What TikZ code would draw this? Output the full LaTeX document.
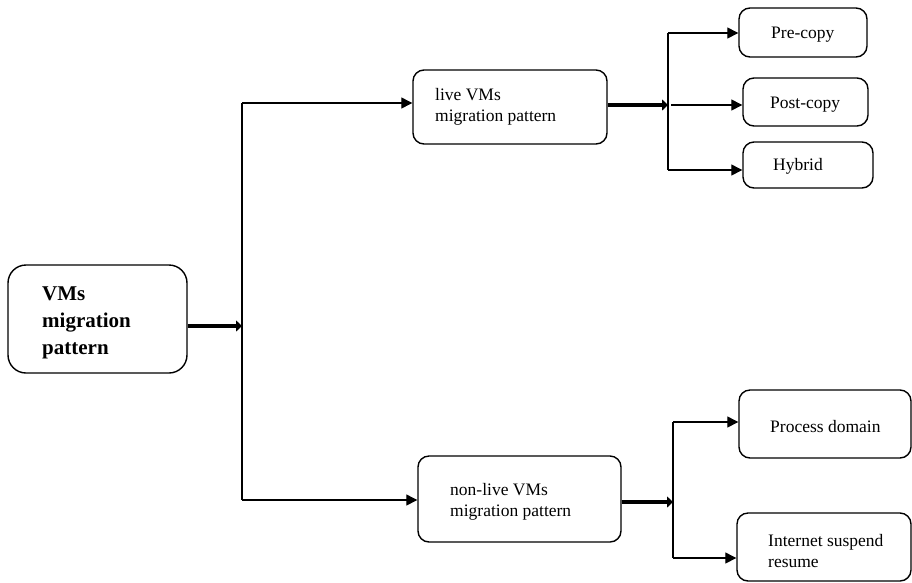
\documentclass[tikz,border=0pt]{standalone}
\usepackage{fontspec}
\setmainfont{Liberation Serif}
\usetikzlibrary{arrows.meta}
\begin{document}
\begin{tikzpicture}[x=1pt,y=-1pt,
  box/.style={draw=black,line width=1.4pt,rounded corners=11pt,inner sep=0pt},
  txt/.style={inner sep=0pt,anchor=base west,align=left,font=\fontsize{17.5}{21}\selectfont},
  bigtxt/.style={inner sep=0pt,anchor=base west,align=left,font=\fontsize{21}{27}\selectfont\bfseries},
  thin/.style={line width=1.3pt},
  arr/.style={line width=1.3pt,-{Triangle[length=11pt,width=11pt]}},
  fat/.style={line width=4.5pt,-{Triangle[length=6pt,width=11pt]}}]
\useasboundingbox (0,0) rectangle (912,582);
% boxes
\node[box,rounded corners=18pt,minimum width=179pt,minimum height=108pt] (main) at (97.5,319) {};
\node[box,minimum width=194pt,minimum height=74pt] (live) at (510,107) {};
\node[box,minimum width=203pt,minimum height=86pt] (nonlive) at (519.5,499) {};
\node[box,minimum width=128pt,minimum height=49pt] (pre) at (803,32.5) {};
\node[box,minimum width=125pt,minimum height=48pt] (post) at (805.5,102) {};
\node[box,minimum width=130pt,minimum height=46pt] (hybrid) at (808,165) {};
\node[box,minimum width=172pt,minimum height=68pt] (proc) at (825,424) {};
\node[box,minimum width=174pt,minimum height=68pt] (inet) at (824,547) {};
% texts (base anchor = baseline of last line)
\node[bigtxt] (maint) at (42,354) {VMs\\migration\\pattern};
\node[txt] (livet) at (435,121) {live VMs\\migration pattern};
\node[txt] (nonlivet) at (450,516) {non-live VMs\\migration pattern};
\node[txt] (pret) at (771,38) {Pre-copy};
\node[txt] (postt) at (770,108) {Post-copy};
\node[txt] (hybridt) at (773,170) {Hybrid};
\node[txt] (proct) at (770,432) {Process domain};
\node[txt] (inett) at (768,567) {Internet suspend\\resume};
% junctions
\coordinate (j1) at (242,326);
\coordinate (j1t) at (242,103);
\coordinate (j1b) at (242,500);
\coordinate (j2) at (668,105);
\coordinate (j2t) at (668,33);
\coordinate (j2m) at (671,105);
\coordinate (j2b) at (668,170);
\coordinate (j3) at (673,502);
\coordinate (j3t) at (673,422);
\coordinate (j3b) at (673,558);
% connectors
\draw[fat] (main.east |- j1) -- (j1);
\draw[thin] (j1t) -- (j1b);
\draw[arr] (j1t) -- (live.west |- j1t);
\draw[arr] (j1b) -- (nonlive.west |- j1b);
\draw[fat] (live.east |- j2) -- (j2);
\draw[thin] (j2t) -- (j2b);
\draw[arr] (j2t) -- (pre.west |- j2t);
\draw[arr] (j2m) -- (post.west |- j2m);
\draw[arr] (j2b) -- (hybrid.west |- j2b);
\draw[fat] (nonlive.east |- j3) -- (j3);
\draw[thin] (j3t) -- (j3b);
\draw[arr] (j3t) -- (proc.west |- j3t);
\draw[arr] (j3b) -- (inet.west |- j3b);
\end{tikzpicture}
\end{document}
